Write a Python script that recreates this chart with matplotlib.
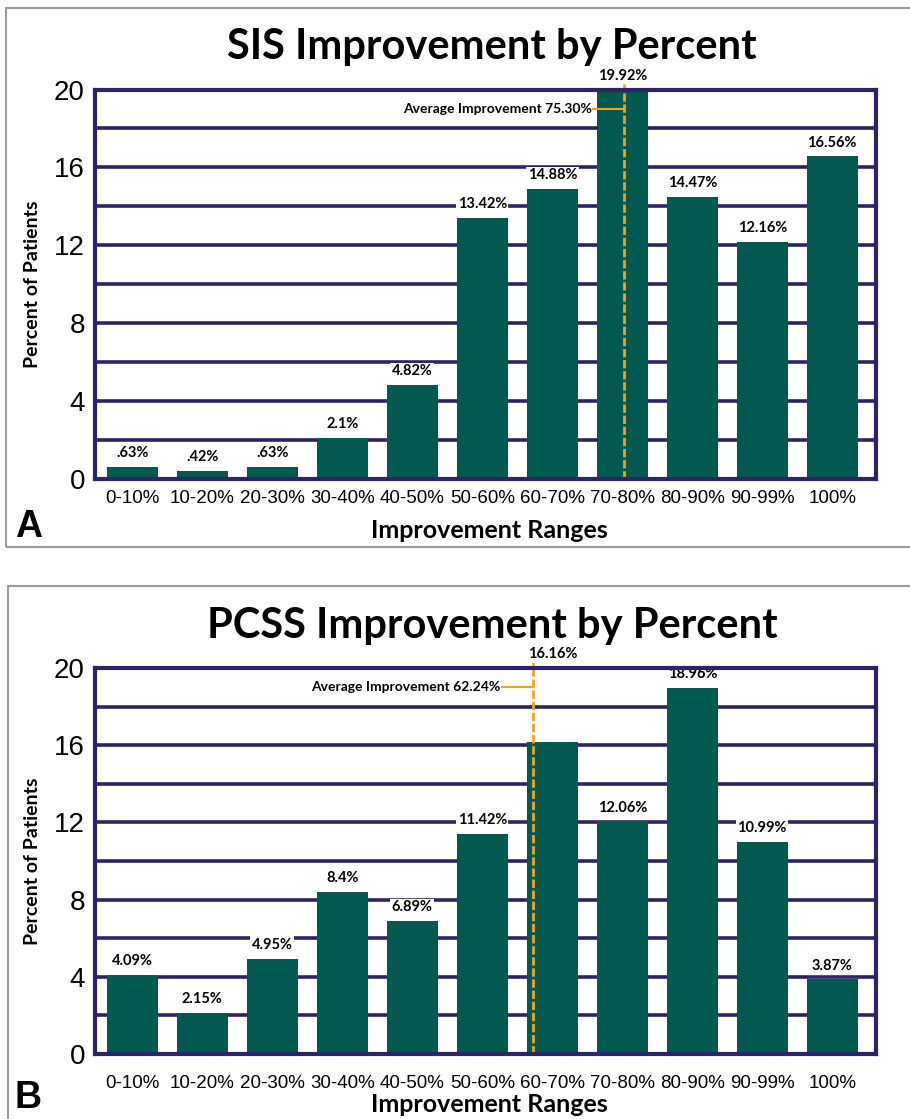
import numpy as np
import matplotlib
matplotlib.use('Agg')
from matplotlib import pyplot as plt
from matplotlib.patches import Rectangle

# 데이터
ranges = ['0-10%', '10-20%', '20-30%', '30-40%', '40-50%', '50-60%',
          '60-70%', '70-80%', '80-90%', '90-99%', '100%']
sis_vals = [0.63, 0.42, 0.63, 2.1, 4.82, 13.42, 14.88, 19.92, 14.47, 12.16, 16.56]
sis_labels = ['.63%', '.42%', '.63%', '2.1%', '4.82%', '13.42%', '14.88%',
              '19.92%', '14.47%', '12.16%', '16.56%']
pcss_vals = [4.09, 2.15, 4.95, 8.4, 6.89, 11.42, 16.16, 12.06, 18.96, 10.99, 3.87]
pcss_labels = ['4.09%', '2.15%', '4.95%', '8.4%', '6.89%', '11.42%', '16.16%',
               '12.06%', '18.96%', '10.99%', '3.87%']
sis_avg = 75.30
pcss_avg = 62.24
y_ticks = [0, 4, 8, 12, 16, 20]

bar_c = '#02594f'
navy = '#2b2467'
orange = '#f7a21b'
bold_f = ['Lato', 'DejaVu Sans']

fig = plt.figure(figsize=(9.1, 11.19), dpi=100)

# 패널 외곽 회색 박스
fig.patches.append(Rectangle((0.007, 0.511), 1.1, 0.482, transform=fig.transFigure,
                             fill=False, edgecolor='#9a9a9a', lw=1.5))
fig.patches.append(Rectangle((0.009, -0.1), 1.1, 0.576, transform=fig.transFigure,
                             fill=False, edgecolor='#9a9a9a', lw=1.5))

def panel(rect, vals, labels, avg, title, letter, title_y, xl_y, letter_y, tick_pad):
    ax = fig.add_axes(rect)
    x = np.arange(len(vals))
    ax.set_xlim(-0.54, 10.63)
    ax.set_ylim(0, 20)
    for g in range(2, 20, 2):
        ax.axhline(g, color=navy, lw=2.6, zorder=1)
    ax.bar(x, vals, width=0.73, color=bar_c, zorder=2)
    ax_x = (avg - 5) / 10
    for xi, v, lb in zip(x, vals, labels):
        # 평균선과 겹치는 막대는 라벨을 맨 위로
        ly = v + 0.35
        if abs(xi - ax_x) < 0.4:
            ly = max(ly, 20.35)
        ax.text(xi, ly, lb, ha='center', va='bottom', fontsize=10.5,
                fontweight='bold', family=bold_f, zorder=4, clip_on=False,
                bbox=dict(boxstyle='square,pad=0.1', fc='white', ec='none'))
    # 평균선
    ax.plot([ax_x, ax_x], [0, 20.3], color=orange, lw=2, ls=(0, (3, 1)),
            zorder=3, clip_on=False)
    ax.plot([ax_x - 0.45, ax_x], [19, 19], color=orange, lw=1.5, zorder=3)
    ax.text(ax_x - 0.47, 19, 'Average Improvement %.2f%%' % avg, ha='right',
            va='center', fontsize=10, fontweight='bold', family=bold_f, zorder=4)
    for s in ax.spines.values():
        s.set_color(navy)
        s.set_linewidth(3)
        s.set_zorder(5)
    ax.set_yticks(y_ticks)
    ax.set_yticklabels([str(t) for t in y_ticks], fontsize=20, family='Liberation Sans')
    ax.set_xticks(x)
    ax.set_xticklabels(ranges, fontsize=13.5, family='Liberation Sans')
    ax.tick_params(length=0)
    ax.tick_params(axis='y', pad=7)
    ax.tick_params(axis='x', pad=tick_pad)
    fig.text(0.541, title_y, title, ha='center', va='center', fontsize=30,
             fontweight='bold', family=bold_f)
    fig.text(0.036, rect[1] + rect[3] / 2, 'Percent of Patients', rotation=90,
             ha='center', va='center', fontsize=14, fontweight='bold', family=bold_f)
    fig.text(0.538, xl_y, 'Improvement Ranges', ha='center', va='center',
             fontsize=18, fontweight='bold', family=bold_f)
    fig.text(0.031, letter_y, letter, ha='center', va='center', fontsize=27,
             fontweight='bold', family='Liberation Sans')
    return ax

panel([0.104, 0.572, 0.859, 0.348], sis_vals, sis_labels, sis_avg,
      'SIS Improvement by Percent', 'A', 0.958, 0.526, 0.529, 8)
panel([0.104, 0.058, 0.859, 0.345], pcss_vals, pcss_labels, pcss_avg,
      'PCSS Improvement by Percent', 'B', 0.441, 0.013, 0.019, 15)

plt.savefig('out.png', dpi=100)
